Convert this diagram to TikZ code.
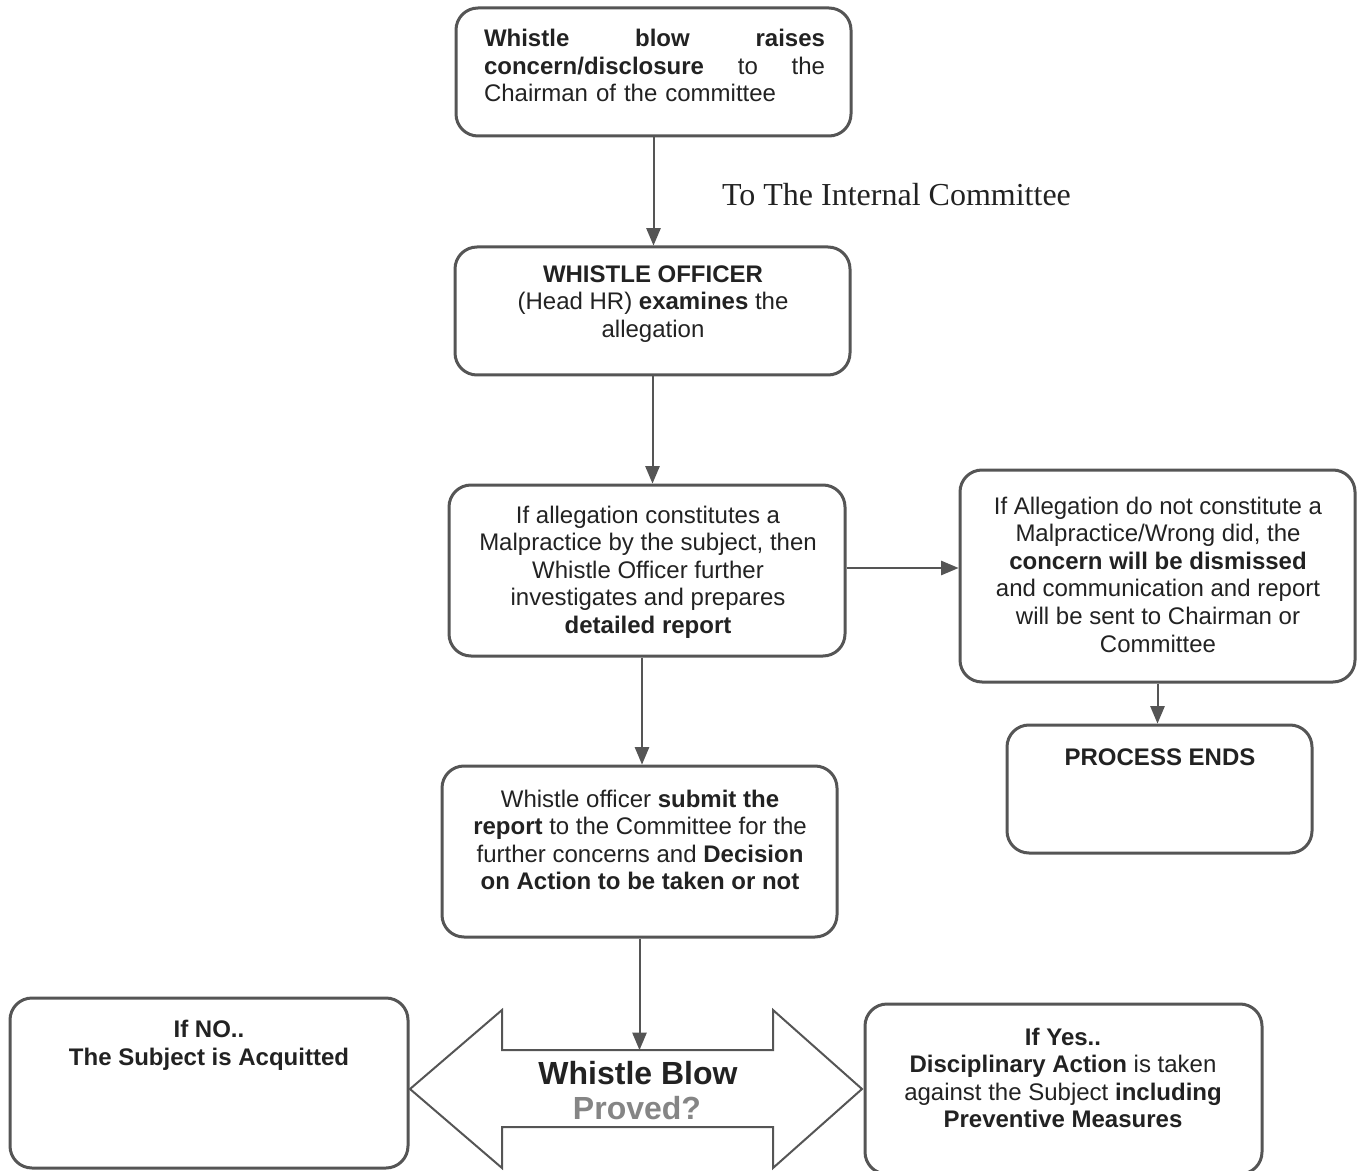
\documentclass[tikz,border=0pt]{standalone}
\usepackage{fontspec}
\setmainfont{Liberation Sans}
\newfontfamily\timesfont{Liberation Serif}
\usetikzlibrary{arrows}

\definecolor{boxgray}{HTML}{555555}
\definecolor{txtgray}{HTML}{222222}
\definecolor{provgray}{HTML}{858585}

\tikzset{
  box/.style={draw=boxgray, line width=1.5pt, rounded corners=11pt, inner sep=0pt},
  txt/.style={text=txtgray, font=\fontsize{12}{13.8}\selectfont, align=center, inner sep=0pt},
  link/.style={draw=boxgray, line width=1pt, ->},
  bigtxt/.style={font=\fontsize{16}{18}\selectfont\bfseries, inner sep=0pt},
}

\begin{document}
\begin{tikzpicture}[x=0.5pt, y=-0.5pt, >=triangle 45]
\useasboundingbox (0,0) rectangle (1365,1171);

% boxes
\node [box, minimum width=197.5pt, minimum height=64pt]   (top) at (653.5,72)   {};
\node [box, minimum width=197.5pt, minimum height=64pt]   (wo)  at (652.5,311)  {};
\node [box, minimum width=198pt,   minimum height=85.5pt] (mal) at (647,570.5)  {};
\node [box, minimum width=197.5pt, minimum height=106pt]  (dis) at (1157.5,576) {};
\node [box, minimum width=152.5pt, minimum height=64pt]   (pe)  at (1159.5,789) {};
\node [box, minimum width=197.5pt, minimum height=85.5pt] (sub) at (639.5,851.5) {};
\node [box, minimum width=199pt,   minimum height=85pt]   (no)  at (209,1083)   {};
\node [box, minimum width=198.5pt, minimum height=85pt]   (yes) at (1063.5,1089) {};

% texts
\node [txt, text width=170.5pt, align=left] (top-t) at (654.5,65.5)
  {\textbf{Whistle}\hfill\textbf{blow}\hfill\textbf{raises}\\
   \textbf{concern/disclosure}\hfill to\hfill the\\
   Chairman of the committee};
\node [txt] (wo-t) at (653,304)
  {\textbf{WHISTLE OFFICER}\\(Head HR) \textbf{examines} the\\allegation};
\node [txt] (mal-t) at (648,572)
  {If allegation constitutes a\\Malpractice by the subject, then\\Whistle Officer further\\
   investigates and prepares\\\textbf{detailed report}};
\node [txt] (dis-t) at (1158,574.5)
  {If Allegation do not constitute a\\Malpractice/Wrong did, the\\\textbf{concern will be dismissed}\\
   and communication and report\\will be sent to Chairman or\\Committee};
\node [txt] (pe-t) at (1160,757) {\textbf{PROCESS ENDS}};
\node [txt] (sub-t) at (640,840)
  {Whistle officer \textbf{submit the}\\\textbf{report} to the Committee for the\\
   further concerns and \textbf{Decision}\\\textbf{on Action to be taken or not}};
\node [txt] (no-t) at (209,1045.5) {\textbf{If NO..}\\\textbf{The Subject is Acquitted}};
\node [txt] (yes-t) at (1063,1078)
  {\textbf{If Yes..}\\\textbf{Disciplinary Action} is taken\\
   against the Subject \textbf{including}\\\textbf{Preventive Measures}};

\node [inner sep=0pt, text=txtgray, font=\timesfont\fontsize{16}{18}\selectfont] (ic) at (896.5,195)
  {To The Internal Committee};

% double arrow
\draw [boxgray, line width=1pt, line join=miter] (410,1089) -- (502,1010) -- (502,1050) -- (773,1050)
  -- (773,1010) -- (862,1089) -- (773,1168) -- (773,1127) -- (502,1127) -- (502,1168) -- cycle;
\coordinate (wb-top) at (638,1050);
\node [bigtxt, text=txtgray] (wb) at (638,1073) {Whistle Blow};
\node [bigtxt, text=provgray] (wb-q) at (637,1108) {Proved?};

% connectors
\draw [link] (top.south) -- (top.south |- wo.north);
\draw [link] (wo.south) -- (wo.south |- mal.north);
\draw [link] (mal.east |- 0,568) -- (dis.west |- 0,568);
\draw [link] (642,0 |- mal.south) -- (642,0 |- sub.north);
\draw [link] (dis.south) -- (dis.south |- pe.north);
\draw [link] (sub.south) -- (sub.south |- wb-top);
\end{tikzpicture}
\end{document}
